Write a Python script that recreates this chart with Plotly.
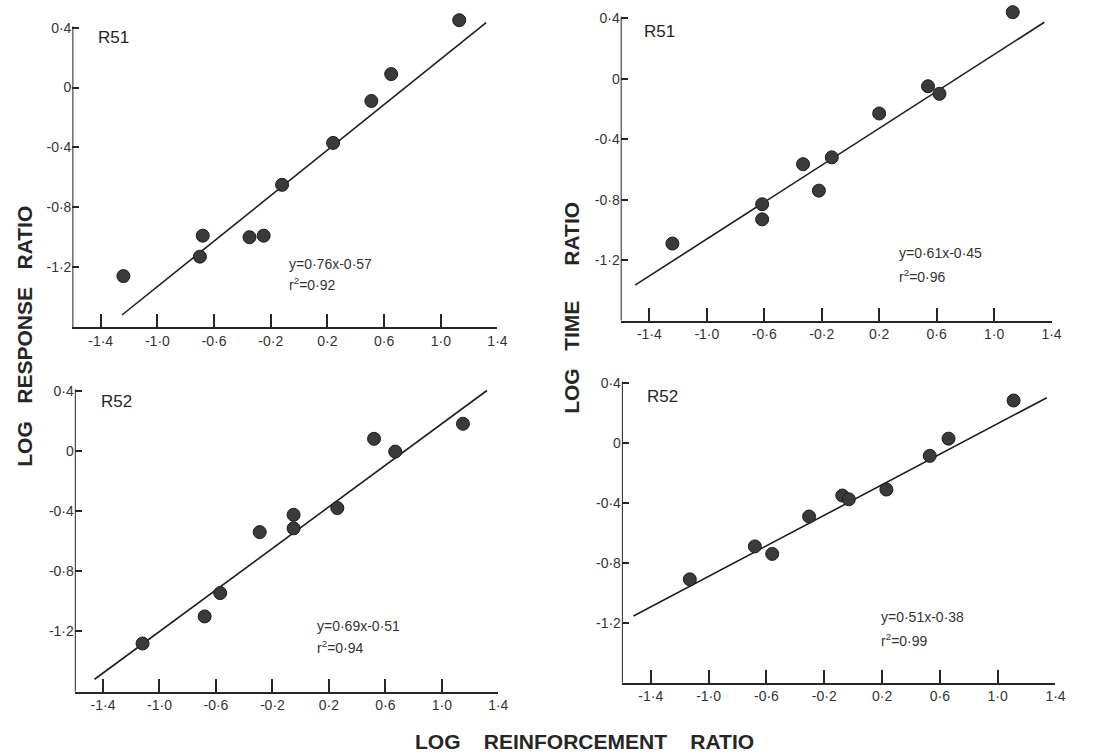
import plotly.graph_objects as go

# Shared tick positions and labels (decimal point printed as a raised dot)
x_tick_vals = [-1.4, -1.0, -0.6, -0.2, 0.2, 0.6, 1.0, 1.4]
x_tick_text = ["-1·4", "-1·0", "-0·6", "-0·2", "0·2", "0·6", "1·0", "1·4"]
y_tick_vals = [0.4, 0.0, -0.4, -0.8, -1.2]
y_tick_text = ["0·4", "0", "-0·4", "-0·8", "-1·2"]

# R51 - log response ratio vs log reinforcement ratio
r51_resp_x = [-1.24, -0.68, -0.70, -0.35, -0.25, -0.12, 0.24, 0.51, 0.65, 1.13]
r51_resp_y = [-1.26, -0.99, -1.13, -1.00, -0.99, -0.65, -0.37, -0.09, 0.09, 0.45]
r51_resp_fit = (0.76, -0.57)
r51_resp_fit_x = (-1.25, 1.32)

# R51 - log time ratio vs log reinforcement ratio
r51_time_x = [-1.24, -0.615, -0.615, -0.33, -0.22, -0.13, 0.20, 0.54, 0.62, 1.13]
r51_time_y = [-1.09, -0.83, -0.93, -0.565, -0.74, -0.52, -0.23, -0.05, -0.10, 0.44]
r51_time_fit = (0.61, -0.45)
r51_time_fit_x = (-1.50, 1.35)

# R52 - log response ratio vs log reinforcement ratio
r52_resp_x = [-1.12, -0.68, -0.57, -0.29, -0.05, -0.05, 0.26, 0.52, 0.67, 1.15]
r52_resp_y = [-1.28, -1.10, -0.945, -0.54, -0.425, -0.515, -0.38, 0.08, -0.005, 0.18]
r52_resp_fit = (0.69, -0.51)
r52_resp_fit_x = (-1.46, 1.32)

# R52 - log time ratio vs log reinforcement ratio
r52_time_x = [-1.13, -0.68, -0.56, -0.305, -0.075, -0.03, 0.23, 0.53, 0.66, 1.11]
r52_time_y = [-0.91, -0.69, -0.74, -0.49, -0.35, -0.375, -0.31, -0.085, 0.03, 0.285]
r52_time_fit = (0.51, -0.38)
r52_time_fit_x = (-1.52, 1.34)

subject_labels = ["R51", "R51", "R52", "R52"]
equation_labels = ["y=0·76x-0·57", "y=0·61x-0·45", "y=0·69x-0·51", "y=0·51x-0·38"]
r2_labels = ["r<sup>2</sup>=0·92", "r<sup>2</sup>=0·96", "r<sup>2</sup>=0·94", "r<sup>2</sup>=0·99"]

FONT = "Liberation Sans, Arial, sans-serif"
INK = "#262626"
X_RANGE = [-1.6, 1.4]
Y_RANGE = [-1.6, 0.5]     # a little headroom so the top points are drawn
Y_AXIS_TOP = 0.41         # the vertical axis line stops just above the 0.4 tick

panels = [
    dict(x=r51_resp_x, y=r51_resp_y, fit=r51_resp_fit, fx=r51_resp_fit_x,
         xd=[0.0655, 0.4502], yd=[0.5675, 0.9832],
         lab=(-1.43, 0.335), eq=(-0.085, -1.178, -1.311)),
    dict(x=r51_time_x, y=r51_time_y, fit=r51_time_fit, fx=r51_time_fit_x,
         xd=[0.5617, 0.9516], yd=[0.5758, 0.9959],
         lab=(-1.45, 0.312), eq=(0.323, -1.154, -1.303)),
    dict(x=r52_resp_x, y=r52_resp_y, fit=r52_resp_fit, fx=r52_resp_fit_x,
         xd=[0.0677, 0.4509], yd=[0.0851, 0.5032],
         lab=(-1.43, 0.327), eq=(0.105, -1.162, -1.304)),
    dict(x=r52_time_x, y=r52_time_y, fit=r52_time_fit, fx=r52_time_fit_x,
         xd=[0.5628, 0.9552], yd=[0.0971, 0.5128],
         lab=(-1.44, 0.311), eq=(0.177, -1.162, -1.318)),
]

fig = go.Figure()
annotations = []
shapes = []
layout_axes = {}

for i, p in enumerate(panels):
    n = "" if i == 0 else str(i + 1)
    xa, ya = "x" + n, "y" + n

    slope, intercept = p["fit"]
    lx = list(p["fx"])
    ly = [slope * v + intercept for v in lx]
    fig.add_trace(go.Scatter(x=lx, y=ly, mode="lines", xaxis=xa, yaxis=ya,
                             line=dict(color="#1e1e1e", width=1.6),
                             showlegend=False, hoverinfo="skip"))
    fig.add_trace(go.Scatter(x=p["x"], y=p["y"], mode="markers", xaxis=xa, yaxis=ya,
                             marker=dict(size=13, color="#3a3a3a",
                                         line=dict(color="#1c1c1c", width=1)),
                             cliponaxis=False, showlegend=False))

    axis_common = dict(linecolor=INK, linewidth=2, mirror=False,
                       showgrid=False, zeroline=False, ticks="inside",
                       tickcolor=INK, tickwidth=2,
                       tickfont=dict(family=FONT, size=14, color="#333333"))
    layout_axes["xaxis" + n] = dict(axis_common, showline=True, domain=p["xd"],
                                    range=X_RANGE, anchor=ya, tickmode="array",
                                    tickvals=x_tick_vals, ticktext=x_tick_text, ticklen=13)
    layout_axes["yaxis" + n] = dict(axis_common, showline=False, domain=p["yd"],
                                    range=Y_RANGE, anchor=xa, tickmode="array",
                                    tickvals=y_tick_vals, ticktext=y_tick_text, ticklen=7)

    # vertical axis line, ending at the top tick
    shapes.append(dict(type="line", xref=xa, yref=ya, x0=X_RANGE[0], x1=X_RANGE[0],
                       y0=Y_RANGE[0], y1=Y_AXIS_TOP, line=dict(color=INK, width=2)))

    annotations.append(dict(x=p["lab"][0], y=p["lab"][1], xref=xa, yref=ya,
                            text=subject_labels[i], showarrow=False, xanchor="left",
                            yanchor="middle",
                            font=dict(family=FONT, size=17, color=INK)))
    ex, ey1, ey2 = p["eq"]
    annotations.append(dict(x=ex, y=ey1, xref=xa, yref=ya, text=equation_labels[i],
                            showarrow=False, xanchor="left", yanchor="middle",
                            font=dict(family=FONT, size=14, color="#333333")))
    annotations.append(dict(x=ex, y=ey2, xref=xa, yref=ya, text=r2_labels[i],
                            showarrow=False, xanchor="left", yanchor="middle",
                            font=dict(family=FONT, size=14, color="#333333")))

gap = "\u00a0\u00a0\u00a0"
title_font = dict(family=FONT, size=21, color=INK, weight="bold")
annotations.append(dict(x=0.0224, y=0.5556, xref="paper", yref="paper",
                        xanchor="center", yanchor="middle",
                        text="LOG" + gap + "RESPONSE" + gap + "RATIO", textangle=-90,
                        showarrow=False, font=title_font))
annotations.append(dict(x=0.5175, y=0.5926, xref="paper", yref="paper",
                        xanchor="center", yanchor="middle",
                        text="LOG" + gap + "TIME" + gap + gap + "RATIO", textangle=-90,
                        showarrow=False, font=title_font))
annotations.append(dict(x=0.529, y=0.0198, xref="paper", yref="paper",
                        xanchor="center", yanchor="middle",
                        text="LOG" + gap + "\u00a0" + "REINFORCEMENT" + gap + "\u00a0" + "RATIO",
                        showarrow=False, font=title_font))

fig.update_layout(width=1115, height=756, margin=dict(l=0, r=0, t=0, b=0),
                  paper_bgcolor="white", plot_bgcolor="white",
                  annotations=annotations, shapes=shapes, **layout_axes)

fig.write_html("out.html")
